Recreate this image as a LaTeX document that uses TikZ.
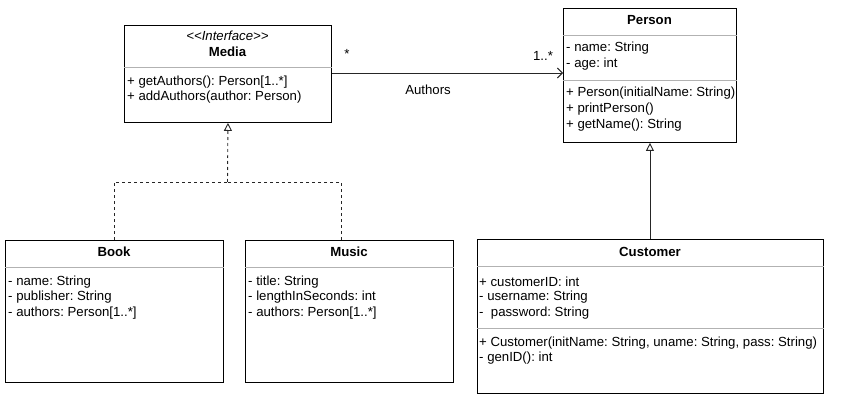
\documentclass[tikz,border=0pt]{standalone}
\usepackage{fontspec}
\setmainfont{Liberation Sans}
\usetikzlibrary{arrows.meta,calc}
\frenchspacing
\begin{document}
\begin{tikzpicture}[x=1pt,y=-1pt,
  classbox/.style={draw=black, line width=0.9pt, rectangle, inner sep=0pt, anchor=north west, fill=white},
  sepline/.style={draw=black!30, line width=0.7pt},
  attr/.style={anchor=west, inner sep=0pt, font=\fontsize{13.2}{15}\selectfont},
  ctitle/.style={inner sep=0pt, font=\bfseries\fontsize{13.2}{15}\selectfont},
  lbl/.style={inner sep=0pt, font=\fontsize{13.2}{15}\selectfont},
  conn/.style={draw=black!85, line width=0.9pt},
  inherit/.style={conn, -{Triangle[open, length=8pt, width=8pt]}},
  assoc/.style={conn, -{Straight Barb[length=5pt, width=10pt]}}
]
\useasboundingbox (0,0) rectangle (849,401);

% Media
\node[classbox, minimum width=207pt, minimum height=97pt] (media) at (124,25) {};
\node[lbl, font=\itshape\fontsize{13.2}{15}\selectfont] (mediast) at (227.5,36) {{<}{<}Interface{>}{>}};
\node[ctitle] (mediat) at (227.5,52) {Media};
\draw[sepline] (media.west |- 0,67) -- (media.east |- 0,67);
\node[attr] (m1) at (127,82) {+ getAuthors(): Person[1..*]};
\node[attr] (m2) at (127,97) {+ addAuthors(author: Person)};

% Person
\node[classbox, minimum width=173pt, minimum height=134pt] (person) at (563,8) {};
\node[ctitle] (persont) at (649.5,20) {Person};
\draw[sepline] (person.west |- 0,35) -- (person.east |- 0,35);
\node[attr] (p1) at (566,48) {- name: String};
\node[attr] (p2) at (566,64) {- age: int};
\draw[sepline] (person.west |- 0,80) -- (person.east |- 0,80);
\node[attr] (p3) at (566,93) {+ Person(initialName: String)};
\node[attr] (p4) at (566,109) {+ printPerson()};
\node[attr] (p5) at (566,125) {+ getName(): String};

% Book
\node[classbox, minimum width=218pt, minimum height=142pt] (book) at (5,240) {};
\node[ctitle] (bookt) at (114,252) {Book};
\draw[sepline] (book.west |- 0,267) -- (book.east |- 0,267);
\node[attr] (b1) at (8,282) {- name: String};
\node[attr] (b2) at (8,297) {- publisher: String};
\node[attr] (b3) at (8,313) {- authors: Person[1..*]};

% Music
\node[classbox, minimum width=208pt, minimum height=142pt] (music) at (245,240) {};
\node[ctitle] (musict) at (349,252) {Music};
\draw[sepline] (music.west |- 0,267) -- (music.east |- 0,267);
\node[attr] (u1) at (248,282) {- title: String};
\node[attr] (u2) at (248,297) {- lengthInSeconds: int};
\node[attr] (u3) at (248,313) {- authors: Person[1..*]};

% Customer
\node[classbox, minimum width=346pt, minimum height=154pt] (customer) at (477,239) {};
\node[ctitle] (customert) at (650,252) {Customer};
\draw[sepline] (customer.west |- 0,266) -- (customer.east |- 0,266);
\node[attr] (c1) at (479,282) {+ customerID: int};
\node[attr] (c2) at (479,297) {- username: String};
\node[attr] (c3) at (479,313) {-\ \ password: String};
\draw[sepline] (customer.west |- 0,328) -- (customer.east |- 0,328);
\node[attr] (c4) at (479,343) {+ Customer(initName: String, uname: String, pass: String)};
\node[attr] (c5) at (479,358) {- genID(): int};

% Association
\draw[assoc] (media.east |- 0,73) -- (person.west |- 0,73);
\node[lbl] (star) at (347,54) {*};
\node[lbl] (mult) at (543,56) {1..*};
\node[lbl] (authors) at (428,90) {Authors};

% Realization (dashed)
\coordinate (junction) at (227.5,182);
\coordinate (musictop) at (341,240);
\draw[conn, dashed, dash pattern=on 3pt off 3pt] (book.north) |- (junction);
\draw[conn, dashed, dash pattern=on 3pt off 3pt] (musictop) |- (junction);
\draw[inherit, dash pattern=on 3pt off 3pt] (junction) -- (media.south);

% Generalization
\draw[inherit] (customer.north -| person.south) -- (person.south);
\end{tikzpicture}
\end{document}
